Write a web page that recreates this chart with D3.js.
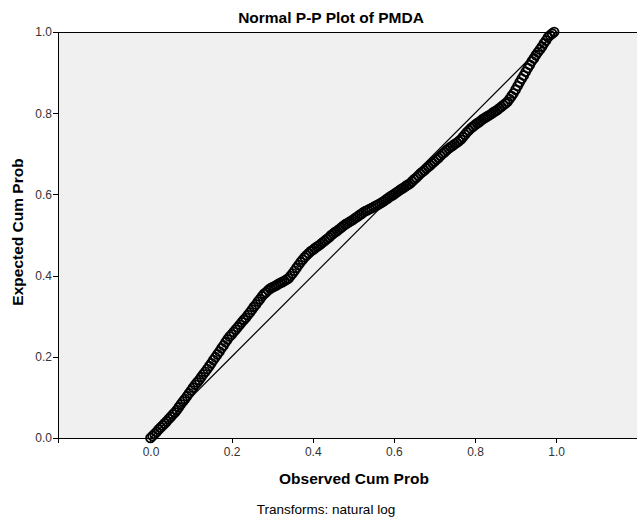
<!DOCTYPE html>
<html>
<head>
<meta charset="utf-8">
<script src="https://cdn.jsdelivr.net/npm/d3@7"></script>
<style>
  html, body { margin: 0; padding: 0; background: #fff; }
  svg { display: block; font-family: "Liberation Sans", Arial, sans-serif; }
</style>
</head>
<body>
<div id="chart"></div>
<script>
// values
const titleText = "Normal P-P Plot of PMDA"
const xLabel = "Observed Cum Prob"
const yLabel = "Expected Cum Prob"
const footnote = "Transforms: natural log"

const xTicks = [0, 0.2, 0.4, 0.6, 0.8, 1.0]
const yTicks = [0, 0.2, 0.4, 0.6, 0.8, 1.0]

// reference diagonal
const refLine = [[0, 0], [1, 1]]

const observed = [
  0.000, 0.005, 0.010, 0.015, 0.020, 0.025, 0.030, 0.035, 0.040, 0.045,
  0.050, 0.055, 0.060, 0.065, 0.070, 0.075, 0.080, 0.085, 0.090, 0.095,
  0.100, 0.105, 0.110, 0.115, 0.120, 0.125, 0.130, 0.135, 0.140, 0.145,
  0.150, 0.155, 0.160, 0.165, 0.170, 0.175, 0.180, 0.185, 0.190, 0.195,
  0.200, 0.205, 0.210, 0.215, 0.220, 0.225, 0.230, 0.235, 0.240, 0.245,
  0.250, 0.255, 0.260, 0.265, 0.270, 0.275, 0.280, 0.285, 0.290, 0.295,
  0.300, 0.305, 0.310, 0.315, 0.320, 0.325, 0.330, 0.335, 0.340, 0.345,
  0.350, 0.355, 0.360, 0.365, 0.370, 0.375, 0.380, 0.385, 0.390, 0.395,
  0.400, 0.405, 0.410, 0.415, 0.420, 0.425, 0.430, 0.435, 0.440, 0.445,
  0.450, 0.455, 0.460, 0.465, 0.470, 0.475, 0.480, 0.485, 0.490, 0.495,
  0.500, 0.505, 0.510, 0.515, 0.520, 0.525, 0.530, 0.535, 0.540, 0.545,
  0.550, 0.555, 0.560, 0.565, 0.570, 0.575, 0.580, 0.585, 0.590, 0.595,
  0.600, 0.605, 0.610, 0.615, 0.620, 0.625, 0.630, 0.635, 0.640, 0.645,
  0.650, 0.655, 0.660, 0.665, 0.670, 0.675, 0.680, 0.685, 0.690, 0.695,
  0.700, 0.705, 0.710, 0.715, 0.720, 0.725, 0.730, 0.735, 0.740, 0.745,
  0.750, 0.755, 0.760, 0.765, 0.770, 0.775, 0.780, 0.785, 0.790, 0.795,
  0.800, 0.805, 0.810, 0.815, 0.820, 0.825, 0.830, 0.835, 0.840, 0.845,
  0.850, 0.855, 0.860, 0.865, 0.870, 0.875, 0.880, 0.885, 0.890, 0.895,
  0.900, 0.905, 0.910, 0.915, 0.920, 0.925, 0.930, 0.935, 0.940, 0.945,
  0.950, 0.955, 0.960, 0.965, 0.970, 0.975, 0.980, 0.985, 0.990, 0.995
]

const expected = [
  0.000, 0.005, 0.010, 0.015, 0.021, 0.026, 0.031, 0.036, 0.041, 0.047,
  0.052, 0.058, 0.063, 0.069, 0.076, 0.083, 0.090, 0.096, 0.103, 0.110,
  0.117, 0.124, 0.131, 0.137, 0.143, 0.150, 0.157, 0.163, 0.170, 0.177,
  0.184, 0.192, 0.199, 0.206, 0.213, 0.221, 0.228, 0.236, 0.243, 0.250,
  0.255, 0.261, 0.267, 0.273, 0.279, 0.285, 0.291, 0.296, 0.303, 0.309,
  0.316, 0.323, 0.329, 0.336, 0.342, 0.349, 0.355, 0.359, 0.364, 0.368,
  0.371, 0.373, 0.376, 0.379, 0.382, 0.384, 0.387, 0.390, 0.393, 0.399,
  0.405, 0.412, 0.419, 0.426, 0.433, 0.439, 0.445, 0.450, 0.455, 0.460,
  0.463, 0.467, 0.471, 0.474, 0.478, 0.482, 0.486, 0.490, 0.494, 0.499,
  0.503, 0.507, 0.510, 0.514, 0.518, 0.522, 0.526, 0.529, 0.532, 0.535,
  0.538, 0.542, 0.545, 0.549, 0.552, 0.556, 0.559, 0.561, 0.564, 0.566,
  0.569, 0.572, 0.574, 0.577, 0.580, 0.583, 0.587, 0.590, 0.594, 0.597,
  0.600, 0.604, 0.607, 0.611, 0.614, 0.617, 0.621, 0.624, 0.627, 0.632,
  0.637, 0.641, 0.646, 0.651, 0.655, 0.659, 0.664, 0.668, 0.672, 0.677,
  0.681, 0.686, 0.690, 0.695, 0.700, 0.704, 0.709, 0.713, 0.717, 0.720,
  0.724, 0.727, 0.731, 0.735, 0.741, 0.747, 0.753, 0.758, 0.763, 0.767,
  0.771, 0.775, 0.778, 0.782, 0.786, 0.789, 0.792, 0.795, 0.798, 0.802,
  0.805, 0.808, 0.812, 0.816, 0.820, 0.824, 0.828, 0.835, 0.842, 0.849,
  0.858, 0.867, 0.876, 0.885, 0.893, 0.902, 0.911, 0.919, 0.928, 0.935,
  0.943, 0.950, 0.957, 0.964, 0.972, 0.979, 0.987, 0.992, 0.996, 1.000
]

const width = 637
const height = 517
const plot = { left: 58, right: 640, top: 32, bottom: 438 }

const svg = d3.select("#chart")
  .append("svg")
  .attr("width", width)
  .attr("height", height)

// x axis runs a bit past 0 and 1 like the SPSS frame
const x = d3.scaleLinear()
  .domain([-0.228, 1.2067])
  .range([plot.left, plot.right])

const y = d3.scaleLinear()
  .domain([0, 1])
  .range([plot.bottom, plot.top])

// plot background + top border
svg.append("rect")
  .attr("x", plot.left)
  .attr("y", plot.top)
  .attr("width", plot.right - plot.left)
  .attr("height", plot.bottom - plot.top)
  .attr("fill", "#f0f0f0")
  .attr("stroke", "#000")
  .attr("stroke-width", 1)
  .attr("shape-rendering", "crispEdges")

// reference line
svg.append("line")
  .attr("x1", x(refLine[0][0]))
  .attr("y1", y(refLine[0][1]))
  .attr("x2", x(refLine[1][0]))
  .attr("y2", y(refLine[1][1]))
  .attr("stroke", "#000")
  .attr("stroke-width", 1.2)

// points (hollow circles)
const points = observed.map((o, i) => ({ obs: o, exp: expected[i] }))

svg.append("g")
  .selectAll("circle")
  .data(points)
  .join("circle")
  .attr("cx", d => x(d.obs))
  .attr("cy", d => y(d.exp))
  .attr("r", 4.4)
  .attr("fill", "none")
  .attr("stroke", "#000")
  .attr("stroke-width", 1.9)

// axes
const xAxis = svg.append("g")
  .attr("transform", `translate(0,${plot.bottom})`)
  .call(d3.axisBottom(x).tickValues(xTicks).tickFormat(d3.format(".1f")).tickSize(5).tickPadding(4))

const yAxis = svg.append("g")
  .attr("transform", `translate(${plot.left},0)`)
  .call(d3.axisLeft(y).tickValues(yTicks).tickFormat(d3.format(".1f")).tickSize(5).tickPadding(1))

for (const ax of [xAxis, yAxis]) {
  ax.select(".domain").attr("stroke", "#000").attr("shape-rendering", "crispEdges")
  ax.selectAll(".tick line").attr("stroke", "#000").attr("shape-rendering", "crispEdges")
  ax.selectAll(".tick text")
    .attr("fill", "#333")
    .style("font-size", "12px")
    .style("font-family", "'Liberation Sans', Arial, sans-serif")
}

// titles
svg.append("text")
  .attr("x", 331)
  .attr("y", 23)
  .attr("text-anchor", "middle")
  .style("font-size", "15.5px")
  .style("font-weight", "bold")
  .text(titleText)

svg.append("text")
  .attr("x", 354)
  .attr("y", 484)
  .attr("text-anchor", "middle")
  .style("font-size", "15.5px")
  .style("font-weight", "bold")
  .text(xLabel)

svg.append("text")
  .attr("transform", "translate(23,232) rotate(-90)")
  .attr("text-anchor", "middle")
  .style("font-size", "15.5px")
  .style("font-weight", "bold")
  .text(yLabel)

svg.append("text")
  .attr("x", 326)
  .attr("y", 514)
  .attr("text-anchor", "middle")
  .style("font-size", "13.5px")
  .text(footnote)
</script>
</body>
</html>
